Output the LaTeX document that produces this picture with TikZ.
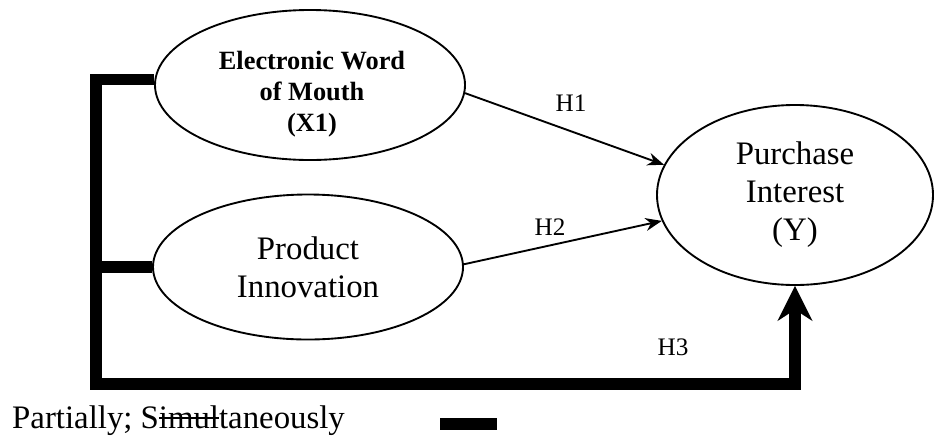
\documentclass[tikz,border=0pt]{standalone}
\usepackage{fontspec}
\setmainfont{Liberation Serif}
\newcommand{\strikeword}[1]{\setbox0\hbox{#1}\rlap{\rule[0.27em]{\wd0}{1.6pt}}#1}
\usetikzlibrary{shapes.geometric,arrows.meta}
\begin{document}
\begin{tikzpicture}[x=0.03cm,y=-0.03cm,
  var/.style={draw,ellipse,line width=1.6pt,inner sep=0pt,align=center,
    font=\fontsize{28}{32.5}\selectfont},
  boldtext/.style={align=center,font=\fontsize{22.5}{26.5}\selectfont\bfseries},
  hyp/.style={line width=1.6pt,-{Stealth[length=14pt,width=11pt]}},
  thickline/.style={line width=9.5pt},
  hlabel/.style={font=\fontsize{21.5}{24}\selectfont}]
\useasboundingbox (0,0) rectangle (934,439);

\node[var,minimum width=9.3cm,minimum height=4.5cm] (ewom) at (310,85) {};
\node[boldtext] (ewomtext) at (312,94) {Electronic Word\\of Mouth\\(X1)};
\node[var,minimum width=9.3cm,minimum height=4.35cm] (pi) at (308,267) {Product\\Innovation};
\node[var,minimum width=8.28cm,minimum height=5.4cm] (interest) at (795,195) {Purchase\\Interest\\(Y)};

\draw[hyp] (ewom.-3) -- (interest.167);
\draw[hyp] (pi.1) -- (interest.191);

\coordinate (bot) at (96,384);
\draw[thickline] (pi.west) -- (pi.west -| bot);
\draw[thickline,-{Stealth[length=30pt,width=30pt,line width=0pt]}] (ewom.178) -| (bot) -| (interest.south);

\node[hlabel] (h1) at (571,103) {H1};
\node[hlabel] (h2) at (550,227) {H2};
\node[hlabel] (h3) at (673,347) {H3};

\node[anchor=base west,inner sep=0pt,font=\fontsize{28}{32}\selectfont] (legend) at (12,428) {Partially; S\strikeword{imul}taneously};
\coordinate (keya) at (440,424);
\coordinate (keyb) at (497,424);
\draw[line width=11pt] (keya) -- (keyb);
\end{tikzpicture}
\end{document}
